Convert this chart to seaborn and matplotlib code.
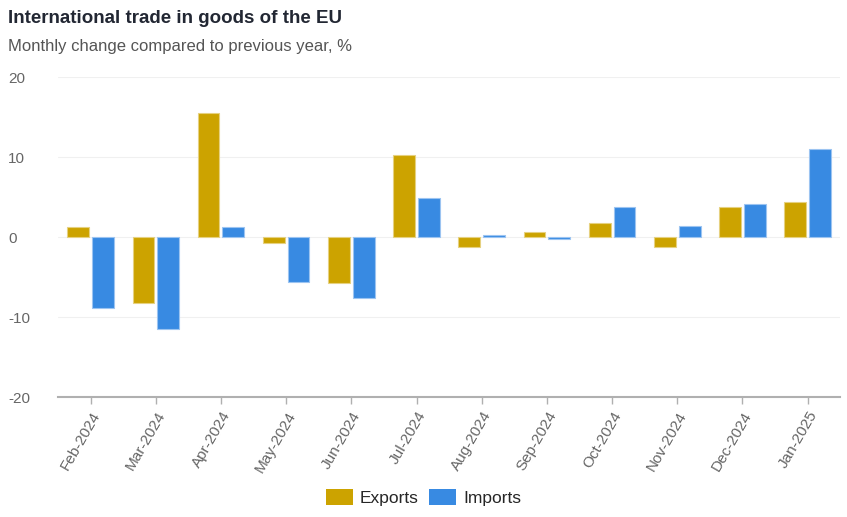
import matplotlib.pyplot as plt
import matplotlib.colors as mcolors
import seaborn as sns
import pandas as pd

months = ["Feb-2024", "Mar-2024", "Apr-2024", "May-2024", "Jun-2024", "Jul-2024",
          "Aug-2024", "Sep-2024", "Oct-2024", "Nov-2024", "Dec-2024", "Jan-2025"]
exports = [1.2, -8.3, 15.5, -0.7, -5.8, 10.2, -1.3, 0.6, 1.7, -1.3, 3.7, 4.4]
imports = [-8.9, -11.5, 1.2, -5.6, -7.6, 4.9, 0.3, -0.2, 3.8, 1.4, 4.1, 11.0]
y_ticks = [-20, -10, 0, 10, 20]

df = pd.concat([
    pd.DataFrame({"Month": months, "Value": exports, "Flow": "Exports"}),
    pd.DataFrame({"Month": months, "Value": imports, "Flow": "Imports"}),
])

palette = {"Exports": "#CCA300", "Imports": "#388AE2"}

sns.set_style("white")
plt.rcParams["font.family"] = ["Liberation Sans", "DejaVu Sans"]
plt.rcParams["axes.unicode_minus"] = False

fig = plt.figure(figsize=(8.47, 5.17), dpi=100)
ax = fig.add_axes([0.0685, 0.232, 0.9235, 0.619])

sns.barplot(df, x="Month", y="Value", hue="Flow", palette=palette, saturation=1,
            width=0.76, gap=0.12, legend=False, ax=ax)

# light outline on bars, like the original
for p in ax.patches:
    fc = mcolors.to_rgb(p.get_facecolor())
    p.set_edgecolor([c + (1 - c) * 0.5 for c in fc])
    p.set_linewidth(0.8)

ax.set_ylim(-20, 20)
ax.set_xlim(-0.5, len(months) - 0.5)
ax.set_yticks(y_ticks)
ax.set_xlabel("")
ax.set_ylabel("")
for y in y_ticks[1:]:
    ax.axhline(y, color="#f0f0f0", lw=0.8, zorder=0)

sns.despine(ax=ax, left=True, top=True, right=True)
ax.spines["bottom"].set_color("#b0b0b0")
ax.spines["bottom"].set_linewidth(1.5)

ax.tick_params(axis="y", length=0, labelsize=11, labelcolor="#666666", pad=36)
for lab in ax.get_yticklabels():
    lab.set_horizontalalignment("left")
ax.tick_params(axis="x", length=5, width=1, color="#b0b0b0", labelsize=11,
               labelcolor="#666666", bottom=True)
plt.setp(ax.get_xticklabels(), rotation=60, ha="right", rotation_mode="anchor")

fig.text(0.009, 0.965, "International trade in goods of the EU", fontsize=13.5,
         fontweight="bold", color="#222733", va="center")
fig.text(0.009, 0.91, "Monthly change compared to previous year, %", fontsize=12,
         color="#555555", va="center")

handles = [plt.Rectangle((0, 0), 1, 1, facecolor=palette[k], edgecolor="none") for k in palette]
fig.legend(handles, list(palette), loc="center", bbox_to_anchor=(0.5, 0.037), ncol=2,
           frameon=False, handlelength=1.55, handleheight=1.05, handletextpad=0.4,
           columnspacing=0.6, fontsize=12.5)

fig.savefig("out.png", dpi=100)
